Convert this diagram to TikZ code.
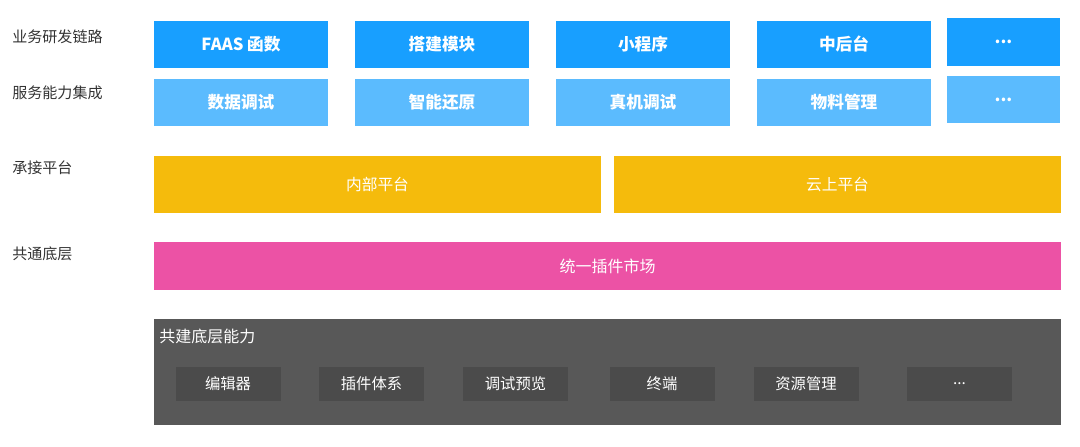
\documentclass[tikz,border=0pt]{standalone}
\usepackage{fontspec}
\setmainfont{Noto Sans CJK SC}
\usepackage{tikz}
\usetikzlibrary{positioning}
\definecolor{bizblue}{HTML}{189FFF}
\definecolor{svcblue}{HTML}{5BBBFE}
\definecolor{platyel}{HTML}{F5BB0C}
\definecolor{mktpink}{HTML}{EC52A5}
\definecolor{basegray}{HTML}{585858}
\definecolor{capgray}{HTML}{4B4B4B}
\definecolor{lbltext}{HTML}{333333}
\begin{document}
\begin{tikzpicture}[x=0.75pt,y=-0.75pt,
  blk/.style 2 args={draw=none,inner sep=0pt,text=white,minimum width=#1*0.75pt,minimum height=#2*0.75pt},
  biz/.style={blk={174}{47},fill=bizblue,font=\fontsize{12.5}{14}\selectfont\bfseries},
  svc/.style={blk={174}{47},fill=svcblue,font=\fontsize{12.5}{14}\selectfont\bfseries},
  plat/.style={blk={447}{57},fill=platyel,font=\fontsize{11.8}{14}\selectfont},
  capbox/.style={blk={105}{34},fill=capgray,font=\fontsize{11.5}{14}\selectfont},
  lbl/.style={anchor=west,inner sep=0pt,text=lbltext,font=\fontsize{11.3}{14}\selectfont}]
\useasboundingbox (0,0) rectangle (1080,446);
% layer labels
\node[lbl] (lblBiz) at (12,37) {业务研发链路};
\node[lbl] (lblSvc) at (12,93) {服务能力集成};
\node[lbl] (lblPlat) at (12,168) {承接平台};
\node[lbl] (lblBase) at (12,254) {共通底层};
% business chain
\node[biz] (faas) at (241,44) {FAAS 函数};
\node[biz] (build) at (442,44) {搭建模块};
\node[biz] (mini) at (643,44) {小程序};
\node[biz] (midend) at (844,44) {中后台};
\node[biz,blk={113}{48}] (bizMore) at (1003.5,42) {\raisebox{-3pt}{...}};
% service capabilities
\node[svc] (dataDbg) at (241,102) {数据调试};
\node[svc] (restore) at (442,102) {智能还原};
\node[svc] (devDbg) at (643,102) {真机调试};
\node[svc] (material) at (844,102) {物料管理};
\node[svc,blk={113}{47}] (svcMore) at (1003.5,99.5) {\raisebox{-3pt}{...}};
% platforms
\node[plat] (inner) at (377.5,184.5) {内部平台};
\node[plat] (cloud) at (837.5,184.5) {云上平台};
% plugin market
\node[blk={907}{48},fill=mktpink,font=\fontsize{12}{14}\selectfont] (market) at (607.5,266) {统一插件市场};
% shared base
\node[blk={907}{106},fill=basegray] (base) at (607.5,372) {};
\node[anchor=west,inner sep=0pt,text=white,font=\fontsize{12}{14}\selectfont] (baseTitle) at (159,336) {共建底层能力};
\node[capbox] (editor) at (228,384) {编辑器};
\node[capbox] (plugSys) at (371.5,384) {插件体系};
\node[capbox] (preview) at (515.5,384) {调试预览};
\node[capbox] (term) at (662,384) {终端};
\node[capbox] (res) at (806,384) {资源管理};
\node[capbox] (capMore) at (959.5,384) {...};
\end{tikzpicture}
\end{document}
